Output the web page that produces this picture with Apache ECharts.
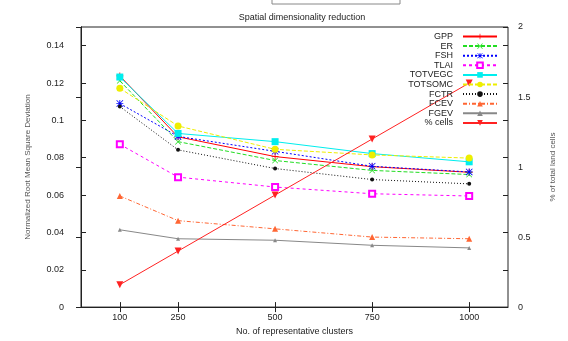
<!DOCTYPE html>
<html>
<head>
<meta charset="utf-8">
<script src="https://cdn.jsdelivr.net/npm/echarts@6/dist/echarts.min.js"></script>
<style>
  html, body { margin: 0; padding: 0; background: #fff; }
  #chart { width: 568px; height: 341px; }
</style>
</head>
<body>
<div id="chart"></div>
<script>
// cluster counts on the x axis
var clusters = [100, 250, 500, 750, 1000];

// normalized RMSD per variable (left axis)
var gpp     = [0.1238, 0.0912, 0.0806, 0.0752, 0.0722];
var er      = [0.1212, 0.0886, 0.0785, 0.0732, 0.0710];
var fsh     = [0.1090, 0.0914, 0.0834, 0.0754, 0.0724];
var tlai    = [0.0872, 0.0696, 0.0643, 0.0607, 0.0595];
var totvegc = [0.1232, 0.0930, 0.0886, 0.0822, 0.0778];
var totsomc = [0.1172, 0.0970, 0.0845, 0.0815, 0.0798];
var fctr    = [0.1074, 0.0842, 0.0742, 0.0683, 0.0660];
var fcev    = [0.0595, 0.0463, 0.0419, 0.0375, 0.0366];
var fgev    = [0.0414, 0.0366, 0.0358, 0.0331, 0.0317];

// % of total land cells (right axis)
var pctCells = [0.16, 0.40, 0.80, 1.20, 1.60];

var legendNames = ["GPP", "ER", "FSH", "TLAI", "TOTVEGC", "TOTSOMC", "FCTR", "FCEV", "FGEV", "% cells"];

function pairs(ys) {
  return clusters.map(function (x, i) { return [x, ys[i]]; });
}

var plusSym = "path://M0,4.4H10V5.6H0Z M4.4,0H5.6V10H4.4Z";
var crossSym = "path://M0.8,0L10,9.2L9.2,10L0,0.8Z M9.2,0L10,0.8L0.8,10L0,9.2Z";
var starSym = "path://M4.4,0H5.6V10H4.4Z M0,4.4H10V5.6H0Z M0.8,0L10,9.2L9.2,10L0,0.8Z M9.2,0L10,0.8L0.8,10L0,9.2Z";
var downTri = "path://M0,0H10L5,9Z";

function mk(name, data, color, type, symbol, size, yIdx) {
  return {
    name: name,
    type: "line",
    yAxisIndex: yIdx || 0,
    data: pairs(data),
    symbol: symbol,
    symbolSize: size,
    showSymbol: true,
    lineStyle: { color: color, width: 1, type: type },
    itemStyle: { color: color, borderColor: color, borderWidth: symbol === "emptyRect" ? 1.2 : 0 },
    emphasis: { disabled: true }
  };
}

var font = "Liberation Sans";
var chart = echarts.init(document.getElementById("chart"));
chart.setOption({
  animation: false,
  backgroundColor: "#fff",
  textStyle: { fontFamily: font },
  title: {
    text: "Spatial dimensionality reduction",
    left: 297, top: 8, textAlign: "center",
    textStyle: { fontSize: 9, fontWeight: "normal", color: "#222", fontFamily: font }
  },
  graphic: [{
    type: "rect",
    shape: { x: 272, y: -10, width: 128, height: 14 },
    style: { fill: "none", stroke: "#888", lineWidth: 1 }
  }],
  grid: { left: 81, right: 60, top: 27, bottom: 30, show: true, borderColor: "#222", borderWidth: 1, backgroundColor: "transparent" },
  legend: {
    data: legendNames,
    orient: "vertical",
    right: 65, top: 27,
    align: "right",
    itemWidth: 34, itemHeight: 7, itemGap: 0.6,
    textStyle: { fontSize: 9, color: "#222", fontFamily: font, lineHeight: 7, padding: [0, 5, 0, 0] },
    selectedMode: false
  },
  xAxis: [{
    type: "value", min: 0, max: 1100,
    name: "No. of representative clusters",
    nameLocation: "middle", nameGap: 19,
    nameTextStyle: { fontSize: 9, color: "#222" },
    axisLine: { show: true, lineStyle: { color: "#222" } },
    axisTick: { inside: true, length: 5, customValues: clusters, lineStyle: { color: "#222" } },
    axisLabel: { customValues: clusters, fontSize: 9, color: "#222", margin: 6, formatter: function (v) { return String(v); } },
    splitLine: { show: false }
  }, {
    type: "value", min: 0, max: 1100, position: "top",
    axisLine: { show: false },
    axisTick: { inside: true, length: 5, customValues: clusters, lineStyle: { color: "#222" } },
    axisLabel: { show: false },
    splitLine: { show: false }
  }],
  yAxis: [{
    type: "value", min: 0, max: 0.15, interval: 0.02,
    name: "Normalized Root Mean Square Deviation",
    nameLocation: "middle", nameGap: 49,
    nameTextStyle: { fontSize: 8, color: "#555" },
    axisLine: { show: true, lineStyle: { color: "#222" } },
    axisTick: { inside: true, length: 5, lineStyle: { color: "#222" } },
    axisLabel: { fontSize: 9, color: "#222", margin: 17, showMaxLabel: false },
    splitLine: { show: false }
  }, {
    type: "value", min: 0, max: 2, interval: 0.5, position: "right",
    name: "% of total land cells",
    nameLocation: "middle", nameGap: 41, nameRotate: 90,
    nameTextStyle: { fontSize: 8, color: "#555" },
    axisLine: { show: true, lineStyle: { color: "#222" } },
    axisTick: { inside: true, length: 5, lineStyle: { color: "#222" } },
    axisLabel: { fontSize: 9, color: "#222", margin: 10 },
    splitLine: { show: false }
  }, {
    type: "value", min: 0, max: 0.15, interval: 0.02, position: "right",
    axisLine: { show: false },
    axisTick: { inside: true, length: 5, lineStyle: { color: "#222" } },
    axisLabel: { show: false },
    splitLine: { show: false }
  }],
  series: [
    mk("GPP", gpp, "#ff0000", "solid", plusSym, 7),
    mk("ER", er, "#22dd22", [4, 2], crossSym, 6),
    mk("FSH", fsh, "#0000ff", [2, 2], starSym, 7),
    mk("TLAI", tlai, "#ff00ff", [3, 3], "emptyRect", 6),
    mk("TOTVEGC", totvegc, "#00eeee", "solid", "rect", 7),
    mk("TOTSOMC", totsomc, "#eeee00", [4, 2], "circle", 7),
    mk("FCTR", fctr, "#111111", [1, 2], "circle", 4),
    mk("FCEV", fcev, "#ff6633", [4, 2, 1, 2], "triangle", 6),
    mk("FGEV", fgev, "#888888", "solid", "triangle", 4),
    mk("% cells", pctCells, "#ff2222", "solid", downTri, 7, 1)
  ]
});
</script>
</body>
</html>
